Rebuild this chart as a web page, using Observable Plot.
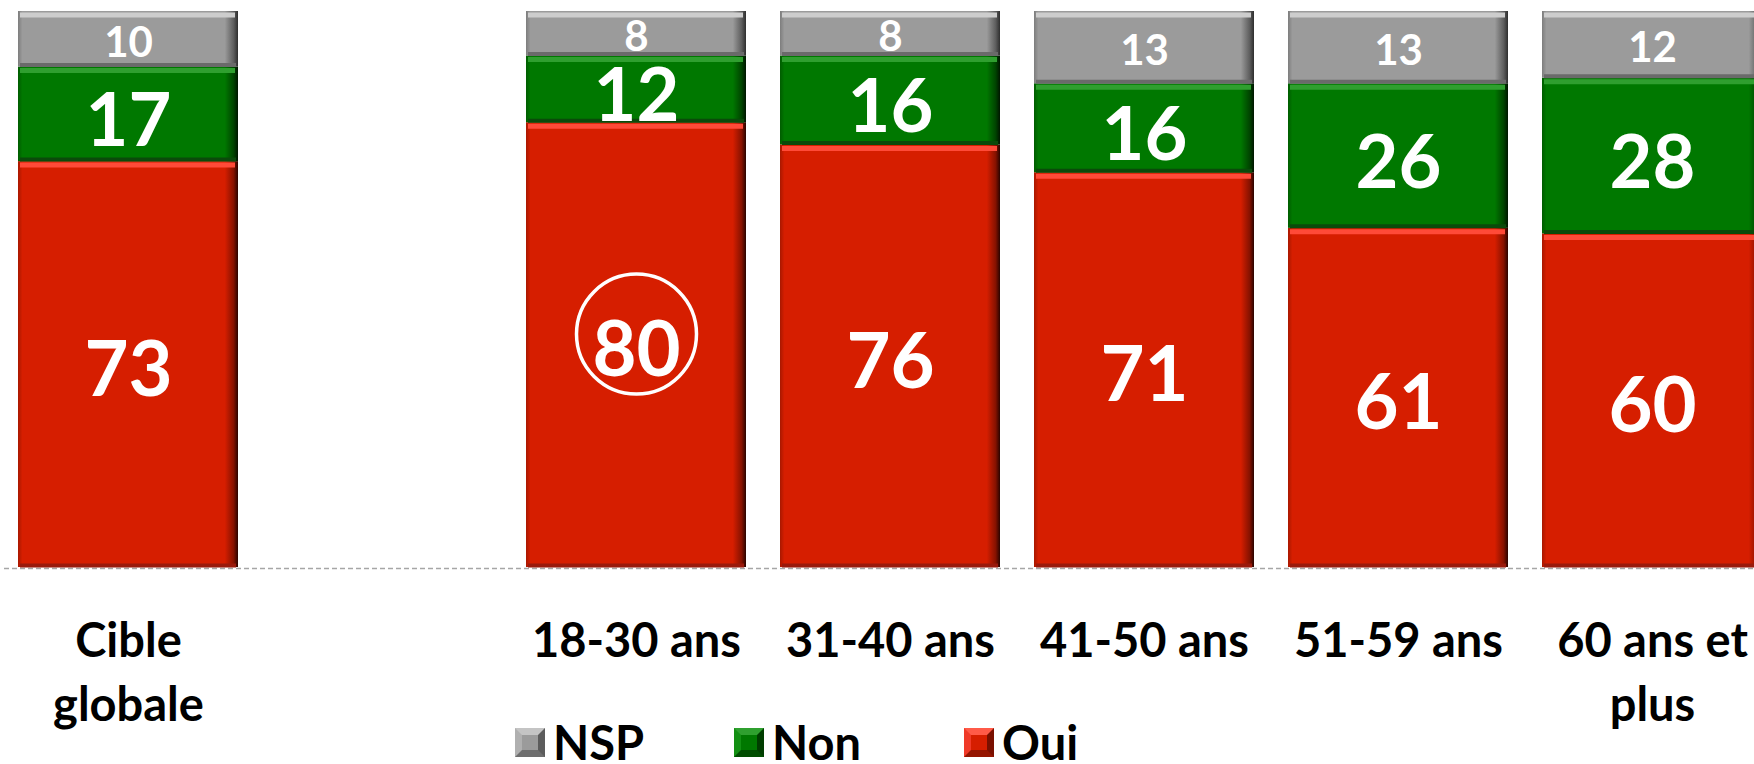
<!DOCTYPE html>
<html>
<head>
<meta charset="utf-8">
<script src="https://cdn.jsdelivr.net/npm/d3@7"></script>
<script src="https://cdn.jsdelivr.net/npm/@observablehq/plot@0.6"></script>
<style>
  html, body { margin: 0; padding: 0; background: #fff; overflow: hidden; }
  body { min-height: 764px; }
  #chart svg { display: block; }
  .legend { height: 14px; display: flex; align-items: center; padding-left: 515px;
            font-family: Lato, sans-serif; font-weight: bold; font-size: 47px; line-height: 14px; color: #000; }
  .item { display: flex; align-items: center; }
  .sw { width: 16px; height: 15px; border: 7px solid; margin-right: 8px; box-sizing: content-box; }
</style>
</head>
<body>
<svg width="0" height="0" style="position:absolute">
  <defs>
    <linearGradient id="g-Oui" x1="0" x2="1" y1="0" y2="0">
      <stop offset="0" stop-color="#a81800"/>
      <stop offset="0.02" stop-color="#d61e00"/>
      <stop offset="0.94" stop-color="#d61e00"/>
      <stop offset="0.98" stop-color="#861200"/>
      <stop offset="1" stop-color="#2a0400"/>
    </linearGradient>
    <linearGradient id="g-Non" x1="0" x2="1" y1="0" y2="0">
      <stop offset="0" stop-color="#005c00"/>
      <stop offset="0.02" stop-color="#007800"/>
      <stop offset="0.94" stop-color="#007800"/>
      <stop offset="0.98" stop-color="#004400"/>
      <stop offset="1" stop-color="#001500"/>
    </linearGradient>
    <linearGradient id="g-NSP" x1="0" x2="1" y1="0" y2="0">
      <stop offset="0" stop-color="#7d7d7d"/>
      <stop offset="0.02" stop-color="#9b9b9b"/>
      <stop offset="0.94" stop-color="#9b9b9b"/>
      <stop offset="0.98" stop-color="#5e5e5e"/>
      <stop offset="1" stop-color="#2e2e2e"/>
    </linearGradient>
  </defs>
</svg>
<div id="chart"></div>
<div class="legend" id="legend"></div>
<script>
// ---- data ----
const categories = ["Cible globale", "18-30 ans", "31-40 ans", "41-50 ans", "51-59 ans", "60 ans et plus"];
const tickLabels = ["Cible\nglobale", "18-30 ans", "31-40 ans", "41-50 ans", "51-59 ans", "60 ans et\nplus"];
const oui = [73, 80, 76, 71, 61, 60];
const non = [17, 12, 16, 16, 26, 28];
const nsp = [10, 8, 8, 13, 13, 12];
const seriesNames = ["Oui", "Non", "NSP"];
const legendOrder = ["NSP", "Non", "Oui"];
const highlightCategory = "18-30 ans";
const highlightSeries = "Oui";

// ---- styles ----
const light = {Oui: "#ff4a38", Non: "#2f9f2f", NSP: "#cdcdcd"};
const dark = {Oui: "#9a1a0c", Non: "#0b4a0b", NSP: "#6a6a6a"};
const swatch = {
  NSP: {bg: "#9b9b9b", t: "#c4c4c4", l: "#b0b0b0", r: "#5c5c5c", b: "#6e6e6e"},
  Non: {bg: "#007800", t: "#2fa02f", l: "#139013", r: "#003d00", b: "#004d00"},
  Oui: {bg: "#d61e00", t: "#ff5a48", l: "#f03a28", r: "#7a1000", b: "#951500"}
};

const values = {Oui: oui, Non: non, NSP: nsp};
const data = categories.flatMap((c, i) => seriesNames.map(s => ({category: c, series: s, value: values[s][i]})));
const xDomain = [categories[0], " ", ...categories.slice(1)];

const label = (s, size, dy) => Plot.text(data, Plot.stackY({
  x: "category", y: "value",
  text: d => d.series === s ? String(d.value) : null,
  fill: "white", fontSize: size, fontWeight: "bold", fontFamily: "Lato, sans-serif", dy
}));

const chart = Plot.plot({
  width: 1754, height: 735,
  marginTop: 11, marginBottom: 168, marginLeft: 0, marginRight: 0,
  x: {domain: xDomain, range: [16, 1765], paddingInner: 0.132, paddingOuter: 0, align: 0.5, axis: null},
  y: {domain: [0, 100], axis: null},
  color: {type: "identity"},
  style: {fontFamily: "Lato, sans-serif", background: "white"},
  marks: [
    Plot.ruleY([0], {stroke: "#a6a6a6", strokeWidth: 1.5, strokeDasharray: "5,3", insetLeft: 4, dy: 1}),
    Plot.barY(data, Plot.stackY({x: "category", y: "value", fill: d => `url(#g-${d.series})`})),
    Plot.tickY(data, Plot.stackY2({x: "category", y: "value", stroke: d => light[d.series], strokeWidth: 5, dy: 3.5, insetLeft: 2, insetRight: 3})),
    Plot.tickY(data, Plot.stackY1({x: "category", y: "value", stroke: d => dark[d.series], strokeWidth: 4, dy: -2, insetLeft: 2, insetRight: 2})),
    label("Oui", 76, 7),
    label("Non", 74, 8),
    label("NSP", 42, 4),
    Plot.dot(data, Plot.stackY({
      x: "category", y: "value", r: 60, fill: "none", strokeWidth: 3.5,
      stroke: d => (d.category === highlightCategory && d.series === highlightSeries) ? "white" : "none",
      dy: -11
    })),
    Plot.text(categories, {
      x: d => d, text: (d, i) => tickLabels[i], frameAnchor: "bottom", lineAnchor: "top",
      dy: 43, fontSize: 47, fontWeight: "bold", lineHeight: 1.38, fill: "black", fontFamily: "Lato, sans-serif"
    })
  ]
});
document.getElementById("chart").appendChild(chart);

// ---- legend ----
const legend = document.getElementById("legend");
const itemWidths = [219, 230, null];
legendOrder.forEach((s, i) => {
  const it = document.createElement("div");
  it.className = "item";
  if (itemWidths[i]) it.style.width = itemWidths[i] + "px";
  const sw = document.createElement("span");
  sw.className = "sw";
  const c = swatch[s];
  sw.style.background = c.bg;
  sw.style.borderColor = `${c.t} ${c.r} ${c.b} ${c.l}`;
  const tx = document.createElement("span");
  tx.textContent = s;
  it.appendChild(sw); it.appendChild(tx);
  legend.appendChild(it);
});
</script>
</body>
</html>
